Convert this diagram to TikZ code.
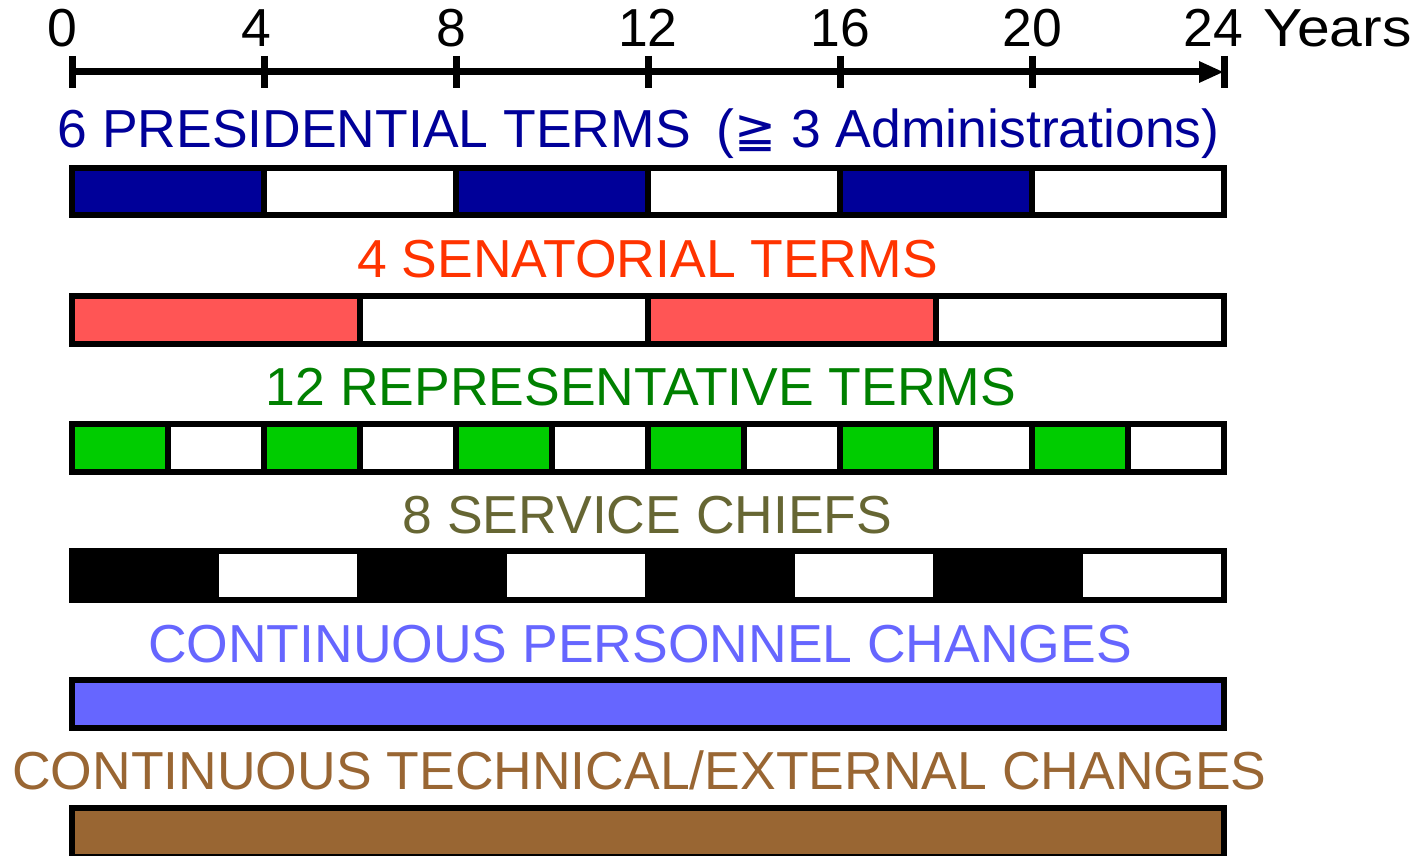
\documentclass[tikz,border=0pt]{standalone}
\usepackage{fontspec}
\setmainfont{Liberation Sans}
\newfontfamily\symfont{DejaVu Sans}
\definecolor{presblue}{HTML}{000099}
\definecolor{senlabel}{HTML}{FF3300}
\definecolor{senfill}{HTML}{FF5555}
\definecolor{replabel}{HTML}{008000}
\definecolor{repfill}{HTML}{00CC00}
\definecolor{svclabel}{HTML}{666633}
\definecolor{perscol}{HTML}{6666FF}
\definecolor{techcol}{HTML}{996633}
\tikzset{
  lbl/.style={anchor=base, inner sep=0pt, font=\fontsize{53.5}{60}\selectfont},
  seg/.style={draw=black, line width=6pt},
  axisline/.style={line width=7pt, draw=black}
}
\begin{document}
\begin{tikzpicture}[x=1pt,y=-1pt]
\useasboundingbox (0,0) rectangle (1422,856);
% axis
\draw[axisline] (72,72) -- (1205,72);
\fill[black] (1199,61) -- (1223,72) -- (1199,83) -- cycle;
\foreach \t in {0,...,6} \draw[axisline] ({72+192*\t},56) -- ({72+192*\t},88);
\foreach \n/\x in {0/62,4/256,8/451,12/648,16/840,20/1032,24/1213}
  \node[lbl] (t\n) at (\x,47) {\n};
\node[lbl, anchor=base west] (years) at (1263,47) {\scalebox{1.1}[1]{Years}};
% presidential
\node[lbl, text=presblue] (plab) at (638.5,148) {6 PRESIDENTIAL TERMS\hspace{26pt}({\symfont\fontsize{50}{60}\selectfont ≧} 3 Administrations)};
\foreach \a/\b/\c in {0/4/presblue,4/8/white,8/12/presblue,12/16/white,16/20/presblue,20/24/white}
  \draw[seg, fill=\c] ({72+48*\a},168) rectangle ({72+48*\b},215);
% senatorial
\node[lbl, text=senlabel] (slab) at (647.5,277) {4 SENATORIAL TERMS};
\foreach \a/\b/\c in {0/6/senfill,6/12/white,12/18/senfill,18/24/white}
  \draw[seg, fill=\c] ({72+48*\a},296) rectangle ({72+48*\b},344);
% representative
\node[lbl, text=replabel] (rlab) at (641,405) {12 REPRESENTATIVE TERMS};
\foreach \a in {0,2,...,22} {
  \pgfmathtruncatemacro{\b}{\a+2}
  \pgfmathsetmacro{\m}{mod(\a,4)}
  \ifdim\m pt<1pt
    \draw[seg, fill=repfill] ({72+48*\a},424) rectangle ({72+48*\b},472);
  \else
    \draw[seg, fill=white] ({72+48*\a},424) rectangle ({72+48*\b},472);
  \fi
}
% service chiefs
\node[lbl, text=svclabel] (clab) at (647.5,533) {8 SERVICE CHIEFS};
\draw[seg, fill=black] (72,551) rectangle (1224,600);
\foreach \a in {3,9,15,21}
  \fill[white] ({72+48*\a+3},554) rectangle ({72+48*(\a+3)-3},597);
% personnel
\node[lbl, text=perscol] (perlab) at (640,662) {CONTINUOUS PERSONNEL CHANGES};
\draw[seg, fill=perscol] (72,680) rectangle (1224,728);
% technical
\node[lbl, text=techcol] (teclab) at (639.5,789) {CONTINUOUS TECHNICAL/EXTERNAL CHANGES};
\draw[seg, fill=techcol] (72,808) rectangle (1224,857);
\end{tikzpicture}
\end{document}
